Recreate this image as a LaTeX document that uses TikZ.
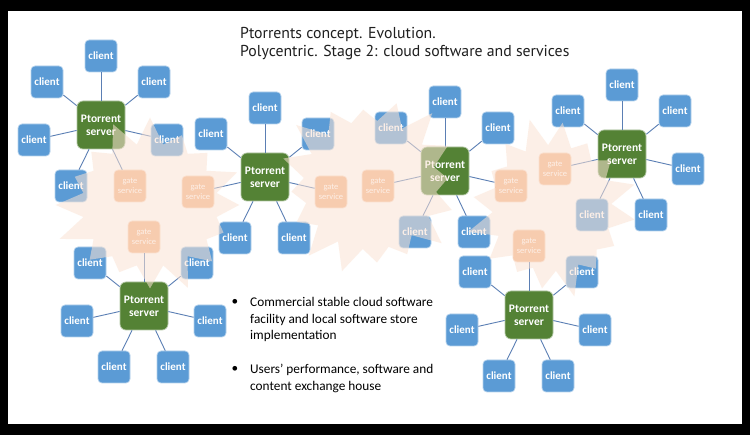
\documentclass[tikz,border=0pt]{standalone}
\usepackage{fontspec}
\setmainfont{Carlito}
\newfontfamily\titlefont{PT Sans}

\definecolor{clientblue}{HTML}{5B9BD5}
\definecolor{servergreen}{HTML}{548235}
\definecolor{gatepeach}{HTML}{F4B183}
\definecolor{linkblue}{HTML}{5B7FB4}
\definecolor{burstpeach}{HTML}{FBE3D4}
\definecolor{titlegray}{HTML}{1F1F1F}

\tikzset{
  box/.style={rectangle, rounded corners=4pt, minimum width=32pt, minimum height=32pt,
              inner sep=0pt, text=white, line width=0.7pt, align=center},
  client/.style={box, fill=clientblue, draw=white!55!clientblue,
                 font=\bfseries\fontsize{11}{12}\selectfont, node contents={client}},
  gate/.style={box, fill=gatepeach, draw=white!55!gatepeach,
               font=\fontsize{8.5}{10}\selectfont, node contents={gate\\service}},
  server/.style={box, fill=servergreen, draw=white!55!servergreen, rounded corners=6pt,
                 minimum width=48pt, minimum height=48pt, font=\bfseries\fontsize{11.5}{13}\selectfont},
  link/.style={draw=linkblue, line width=0.9pt},
  burst/.style={fill=burstpeach, fill opacity=0.55},
  notes/.style={font=\fontsize{13.3}{16.7}\selectfont, align=left, inner sep=0pt},
  slot t/.style={shift={(0,-69)}},
  slot ul/.style={shift={(-54,-43)}},
  slot ur/.style={shift={(53,-43)}},
  slot l/.style={shift={(-67,15)}},
  slot r/.style={shift={(66,15)}},
  slot ll/.style={shift={(-30,61)}},
  slot lr/.style={shift={(29,61)}},
}

\begin{document}
\begin{tikzpicture}[x=1pt,y=-1pt]
  \useasboundingbox (0,0) rectangle (750,435);
  \fill[black] (0,0) rectangle (750,435);
  \fill[white] (8,11) rectangle (742,424);

  % title
  \node[anchor=base west, inner sep=0pt, text=titlegray, font=\titlefont\fontsize{15.8}{19}\selectfont]
    (title1) at (240,39) {Ptorrents concept. Evolution.};
  \node[anchor=base west, inner sep=0pt, text=titlegray, font=\titlefont\fontsize{15.8}{19}\selectfont]
    (title2) at (240,57) {Polycentric. Stage 2: cloud software and services};

  % servers
  \node[server] (S1) at (101,125) {Ptorrent\\server};
  \node[server] (S2) at (265,177) {Ptorrent\\server};
  \node[server] (S3) at (445,171) {Ptorrent\\server};
  \node[server] (S4) at (622,154) {Ptorrent\\server};
  \node[server] (S5) at (144,306) {Ptorrent\\server};
  \node[server] (S6) at (529,315) {Ptorrent\\server};

  % clients and gates round each server
  \foreach \slot/\kind in {t/client,ul/client,ur/client,l/client,r/client,ll/client,lr/gate} {
    \node (S1\slot) at (S1) [\kind, slot \slot];
    \draw[link] (S1) -- (S1\slot);
  }
  \foreach \slot/\kind in {t/client,ul/client,ur/client,l/gate,r/gate,ll/client,lr/client} {
    \node (S2\slot) at (S2) [\kind, slot \slot];
    \draw[link] (S2) -- (S2\slot);
  }
  \foreach \slot/\kind in {t/client,ul/client,ur/client,l/gate,r/gate,ll/client,lr/client} {
    \node (S3\slot) at (S3) [\kind, slot \slot];
    \draw[link] (S3) -- (S3\slot);
  }
  \foreach \slot/\kind in {t/client,ul/client,ur/client,l/gate,r/client,ll/client,lr/client} {
    \node (S4\slot) at (S4) [\kind, slot \slot];
    \draw[link] (S4) -- (S4\slot);
  }
  \foreach \slot/\kind in {t/gate,ul/client,ur/client,l/client,r/client,ll/client,lr/client} {
    \node (S5\slot) at (S5) [\kind, slot \slot];
    \draw[link] (S5) -- (S5\slot);
  }
  \foreach \slot/\kind in {t/gate,ul/client,ur/client,l/client,r/client,ll/client,lr/client} {
    \node (S6\slot) at (S6) [\kind, slot \slot];
    \draw[link] (S6) -- (S6\slot);
  }

  % cloud bursts over the middle
  \fill[burst]
    \foreach \cx/\cy/\rx/\ry/\ph in {150/205/97/88/0, 370/185/95/92/40, 552/208/85/90/75} {
      ({\cx+\rx*cos(\ph)*(0.92+0.1*sin(\ph))}, {\cy+\ry*sin(\ph)*(0.92+0.1*sin(\ph))})
      \foreach \i in {1,...,31} {
        -- ({\cx+\rx*cos(\ph+\i*11.25)*(0.7+mod(\i+1,2)*(0.22+0.1*sin(\ph+137*\i)))},
            {\cy+\ry*sin(\ph+\i*11.25)*(0.7+mod(\i+1,2)*(0.22+0.1*sin(\ph+137*\i)))})
      } -- cycle
    };

  % notes
  \node[notes, anchor=base] (dot1) at (235,306) {\textbullet};
  \node[notes, anchor=north west] (item1) at (250,297)
    {Commercial stable cloud software\\facility and local software store\\implementation};
  \node[notes, anchor=base] (dot2) at (235,373) {\textbullet};
  \node[notes, anchor=north west] (item2) at (250,364)
    {Users’ performance, software and\\content exchange house};
\end{tikzpicture}
\end{document}
